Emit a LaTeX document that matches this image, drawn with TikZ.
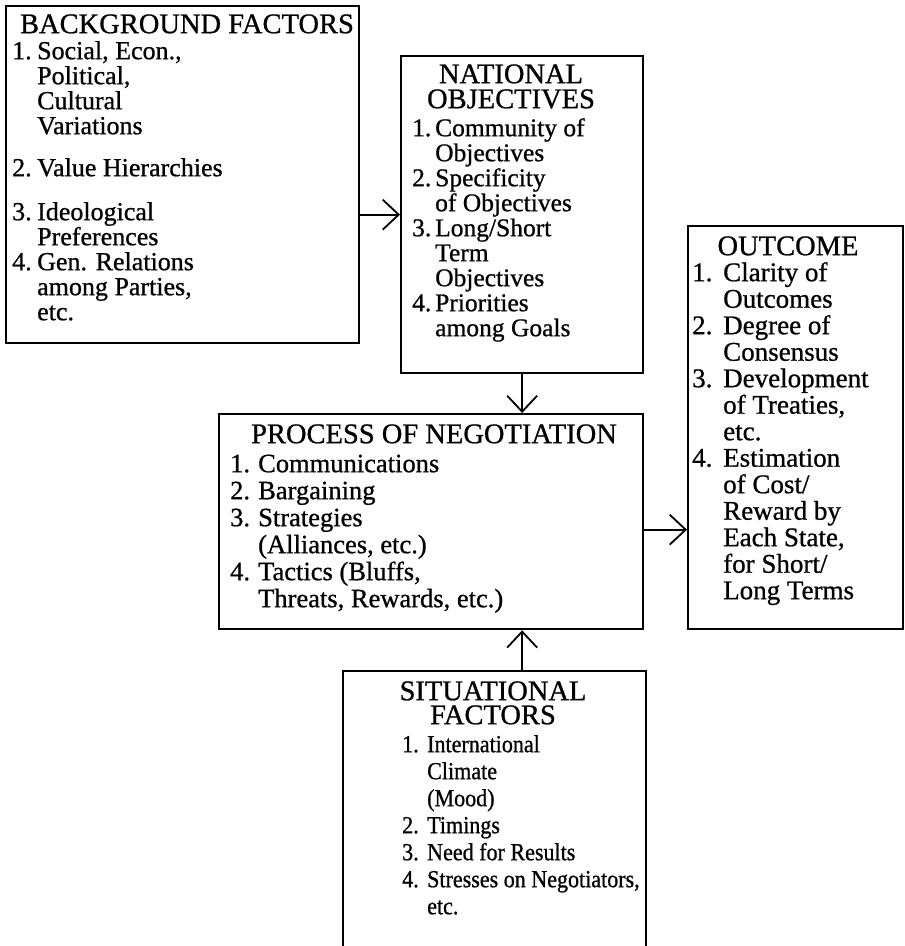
\documentclass[tikz,border=0pt]{standalone}
\usepackage{fontspec}
\setmainfont{Liberation Serif}[FakeBold=0.8]
\newfontfamily\sitfont{Liberation Serif}[FakeStretch=0.9, FakeBold=0.8]
\usetikzlibrary{arrows.meta}
\newlength{\numw}
\newcommand{\nm}[1]{\makebox[\numw][l]{#1}}
\newcommand{\ind}{\hspace*{\numw}}
\newcommand{\tp}{\rule{0pt}{20pt}}
\newcommand{\setfs}[2]{\fontsize{#1}{#2}\selectfont}
\begin{document}
\begin{tikzpicture}[x=1pt, y=-1pt,
        box/.style={draw, line width=2.3pt, inner sep=0pt, anchor=north west},
        hd/.style={anchor=north, inner sep=0pt, align=center, font=\setfs{28.5}{25}},
        lst/.style={anchor=north west, inner sep=0pt, align=left},
        numw/.code={\setlength{\numw}{#1}},
        arr/.style={line width=1.8pt, -{Straight Barb[length=16pt,width=30pt]}}]
    \useasboundingbox (0,0) rectangle (905,946);
    \foreach \n/\x/\y/\w/\h in {bg/5/5/353/337, nat/400/55/242/317, out/687/225/215/403, proc/218/413/424/215, sit/342/670/303/300} {
        \node[box, minimum width=\w pt, minimum height=\h pt] (\n) at (\x,\y) {};
    }
    \node[hd] (bghd) at (187,13) {\tp BACKGROUND FACTORS};
    \node[lst, numw=25pt, font=\setfs{26}{25}] (bgls) at (12,39) {\tp\nm{1.}Social, Econ.,\\
        \ind Political,\\
        \ind Cultural\\
        \ind Variations\\[17pt]
        \nm{2.}Value Hierarchies\\[19pt]
        \nm{3.}Ideological\\
        \ind Preferences\\
        \nm{4.}Gen. Relations\\
        \ind among Parties,\\
        \ind etc.};
    \node[hd] (nathd) at (511,63) {\tp NATIONAL\\ OBJECTIVES};
    \node[lst, numw=23pt, font=\setfs{25.5}{25}] (natls) at (412,116) {\tp\nm{1.}Community of\\
        \ind Objectives\\
        \nm{2.}Specificity\\
        \ind of Objectives\\
        \nm{3.}Long/Short\\
        \ind Term\\
        \ind Objectives\\
        \nm{4.}Priorities\\
        \ind among Goals};
    \node[hd] (outhd) at (788,235) {\tp OUTCOME};
    \node[lst, numw=31pt, font=\setfs{27}{26.5}] (outls) at (692,261) {\tp\nm{1.}Clarity of\\
        \ind Outcomes\\
        \nm{2.}Degree of\\
        \ind Consensus\\
        \nm{3.}Development\\
        \ind of Treaties,\\
        \ind etc.\\
        \nm{4.}Estimation\\
        \ind of Cost/\\
        \ind Reward by\\
        \ind Each State,\\
        \ind for Short/\\
        \ind Long Terms};
    \node[hd] (prochd) at (434,423) {\tp PROCESS OF NEGOTIATION};
    \node[lst, numw=28pt, font=\setfs{26.5}{27}] (procls) at (230,452) {\tp\nm{1.}Communications\\
        \nm{2.}Bargaining\\
        \nm{3.}Strategies\\
        \ind (Alliances, etc.)\\
        \nm{4.}Tactics (Bluffs,\\
        \ind Threats, Rewards, etc.)};
    \node[hd] (sithd) at (493,680) {\tp SITUATIONAL\\[-1pt] FACTORS};
    \node[lst, numw=25pt, font=\sitfont\setfs{24.5}{27}] (sitls) at (402,732) {\tp\nm{1.}International\\
        \ind Climate\\
        \ind (Mood)\\
        \nm{2.}Timings\\
        \nm{3.}Need for Results\\
        \nm{4.}Stresses on Negotiators,\\
        \ind etc.};
    \coordinate (pe) at ([yshift=-8pt]proc.east);
    \draw[arr] (bg.east |- nat.west) -- (nat.west);
    \draw[arr] (nat.south) -- (nat.south |- proc.north);
    \draw[arr] (pe) -- (pe -| out.west);
    \draw[arr] (sit.north -| nat.south) -- (proc.south -| nat.south);
\end{tikzpicture}
\end{document}
